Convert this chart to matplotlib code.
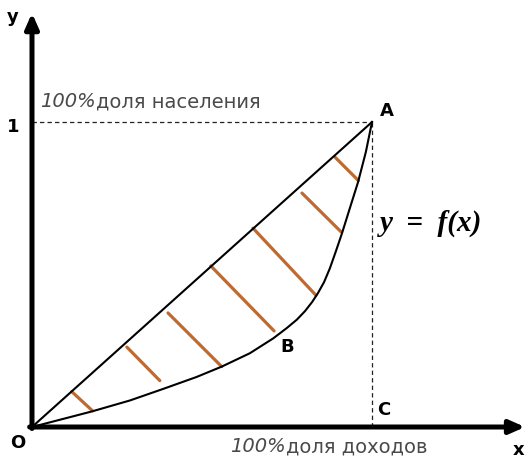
import matplotlib
matplotlib.use("Agg")
import matplotlib.pyplot as plt

# Lorenz-type curve O -> B -> A (share of income, share of population)
curve_x = [0, 0.176, 0.288, 0.386, 0.484, 0.558, 0.641, 0.710, 0.750, 0.779,
           0.803, 0.824, 0.841, 0.859, 0.876, 0.894, 0.912, 0.935, 0.959, 0.982, 1.0]
curve_y = [0, 0.051, 0.087, 0.125, 0.164, 0.198, 0.242, 0.291, 0.325, 0.352,
           0.380, 0.410, 0.439, 0.475, 0.520, 0.577, 0.636, 0.718, 0.803, 0.902, 1.0]

# line of equality O -> A
equal_x = [0, 1]
equal_y = [0, 1]

# hatch strokes between the two lines (start on diagonal, end on curve)
hatch_x0 = [0.117, 0.279, 0.400, 0.526, 0.650, 0.794, 0.891]
hatch_y0 = [0.116, 0.262, 0.374, 0.528, 0.652, 0.767, 0.885]
hatch_x1 = [0.178, 0.376, 0.558, 0.712, 0.835, 0.909, 0.960]
hatch_y1 = [0.053, 0.152, 0.198, 0.315, 0.432, 0.640, 0.808]

HATCH = '#bf6a30'

fig = plt.figure(figsize=(5.30, 4.59), dpi=100)
ax = fig.add_axes([0, 0, 1, 1])
ax.set_xlim(-0.0941, 1.4647)
ax.set_ylim(-0.1049, 1.40)
ax.axis('off')

# guide lines to A
ax.plot([0, 1], [1, 1], color='#222222', lw=0.9, ls=(0, (3.5, 2.5)))
ax.plot([1, 1], [0, 1], color='#222222', lw=0.9, ls=(0, (3.5, 2.5)))

# hatching
for x0, y0, x1, y1 in zip(hatch_x0, hatch_y0, hatch_x1, hatch_y1):
    ax.plot([x0, x1], [y0, y1], color=HATCH, lw=2.3, solid_capstyle='round')

ax.plot(equal_x, equal_y, color='black', lw=1.5)
ax.plot(curve_x, curve_y, color='black', lw=1.5, solid_joinstyle='round')

# axes with arrows
arrow = dict(arrowstyle='-|>,head_length=0.45,head_width=0.2', lw=3.6,
             color='black', shrinkA=0, shrinkB=0, mutation_scale=20)
ax.annotate('', xy=(0, 1.357), xytext=(0, -0.005), arrowprops=arrow)
ax.annotate('', xy=(1.45, 0), xytext=(-0.007, 0), arrowprops=arrow)

bold = dict(family='DejaVu Sans', fontweight='bold', fontsize=13, ha='center', va='center')
ax.text(-0.056, 1.344, 'y', **bold)
ax.text(1.43, -0.074, 'x', **bold)
ax.text(-0.041, -0.052, 'O', **bold)
ax.text(-0.056, 0.984, '1', **bold)
ax.text(1.044, 1.036, 'A', **bold)
ax.text(0.751, 0.261, 'B', **bold)
ax.text(1.035, 0.056, 'C', **bold)

ax.text(1.022, 0.669, 'y  =  f(x)', family='Liberation Serif', fontweight='bold',
        fontstyle='italic', fontsize=21, ha='left', va='center')

grey = '#4a4a4a'
t1 = ax.text(0.024, 1.049, '100%', family='DejaVu Sans', fontstyle='italic',
             fontsize=14, color=grey, ha='left', va='baseline')
ax.annotate('доля населения', xy=(1, 0), xycoords=t1, family='DejaVu Sans',
            fontsize=14, color=grey, ha='left', va='bottom')
t2 = ax.text(0.582, -0.082, '100%', family='DejaVu Sans', fontstyle='italic',
             fontsize=14, color=grey, ha='left', va='baseline')
ax.annotate('доля доходов', xy=(1, 0), xycoords=t2, family='DejaVu Sans',
            fontsize=14, color=grey, ha='left', va='bottom')

fig.savefig('out.png', dpi=100)
